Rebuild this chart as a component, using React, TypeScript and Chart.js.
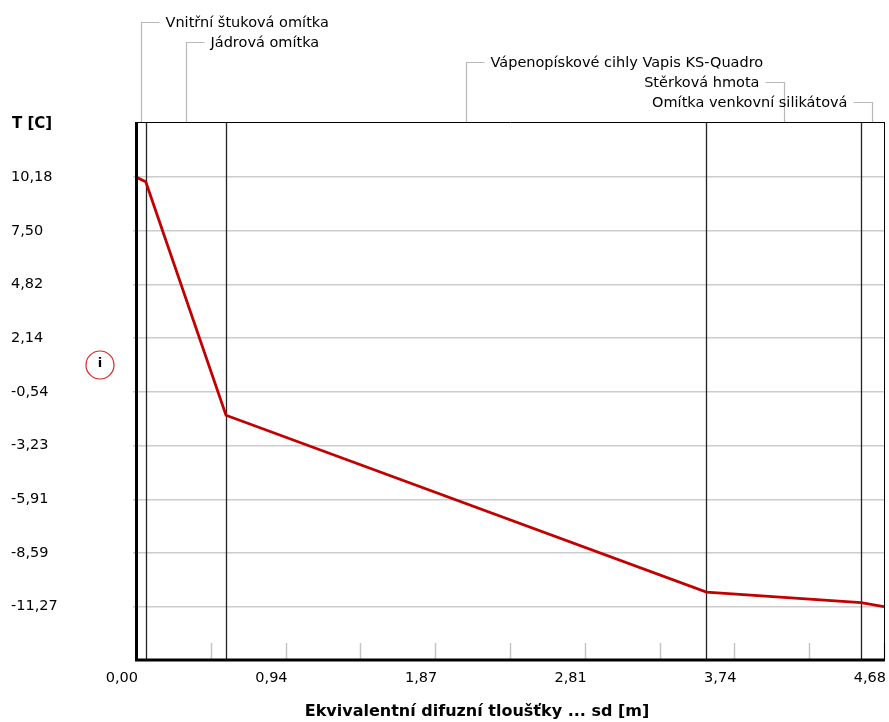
import React, { useEffect, useRef } from 'react';
import { Chart, registerables } from 'chart.js';

Chart.register(...registerables);

// ---- data ----
const sd = [0, 0.061, 0.563, 3.569, 4.536, 4.68];
const temperature = [10.18, 9.95, -1.71, -10.54, -11.07, -11.27];

const layerNames = [
  'Vnitřní štuková omítka',
  'Jádrová omítka',
  'Vápenopískové cihly Vapis KS-Quadro',
  'Stěrková hmota',
  'Omítka venkovní silikátová',
];
const layerBounds = [0, 0.061, 0.563, 3.569, 4.536, 4.68];

const xTicks = [0, 0.468, 0.936, 1.404, 1.872, 2.34, 2.808, 3.276, 3.744, 4.212, 4.68];
const xTickLabels = ['0,00', '', '0,94', '', '1,87', '', '2,81', '', '3,74', '', '4,68'];
const yTicks = [10.18, 7.5, 4.82, 2.14, -0.54, -3.23, -5.91, -8.59, -11.27];
const yTickLabels = ['10,18', '7,50', '4,82', '2,14', '-0,54', '-3,23', '-5,91', '-8,59', '-11,27'];

const xMin = 0;
const xMax = 4.68;
const yMin = -13.93;
const yMax = 12.93;

const yAxisTitle = 'T [C]';
const xAxisTitle = 'Ekvivalentní difuzní tloušťky ... sd [m]';

const FONT = '"DejaVu Sans", "Liberation Sans", Arial, sans-serif';

const decor = {
  id: 'decor',
  beforeDatasetsDraw(chart: any) {
    const { ctx, chartArea: a, scales } = chart;
    const x = scales.x;
    ctx.save();
    // short inner tick marks at the bottom
    ctx.strokeStyle = '#c4c4c4';
    ctx.lineWidth = 1.5;
    xTicks.forEach((v) => {
      const px = Math.round(x.getPixelForValue(v)) + 0.5;
      ctx.beginPath();
      ctx.moveTo(px, a.bottom - 17);
      ctx.lineTo(px, a.bottom);
      ctx.stroke();
    });
    // layer boundaries
    ctx.strokeStyle = '#222';
    ctx.lineWidth = 1.3;
    layerBounds.slice(1, -1).forEach((v) => {
      const px = Math.round(x.getPixelForValue(v)) + 0.5;
      ctx.beginPath();
      ctx.moveTo(px, a.top);
      ctx.lineTo(px, a.bottom);
      ctx.stroke();
    });
    ctx.restore();
  },
  afterDatasetsDraw(chart: any) {
    const { ctx, chartArea: a, scales } = chart;
    const x = scales.x;
    ctx.save();
    // frame
    ctx.strokeStyle = '#000';
    ctx.lineWidth = 1;
    ctx.beginPath();
    ctx.moveTo(a.left, a.top + 0.5);
    ctx.lineTo(a.right + 1, a.top + 0.5);
    ctx.moveTo(a.right + 0.5, a.top);
    ctx.lineTo(a.right + 0.5, a.bottom);
    ctx.stroke();
    ctx.lineWidth = 3;
    ctx.beginPath();
    ctx.moveTo(a.left + 0.5, a.top);
    ctx.lineTo(a.left + 0.5, a.bottom + 1.5);
    ctx.moveTo(a.left - 1, a.bottom);
    ctx.lineTo(a.right + 1, a.bottom);
    ctx.stroke();

    // layer labels with leader lines
    ctx.font = '14.5px ' + FONT;
    ctx.fillStyle = '#000';
    ctx.textBaseline = 'alphabetic';
    layerNames.forEach((name, i) => {
      const cx = Math.round((x.getPixelForValue(layerBounds[i]) + x.getPixelForValue(layerBounds[i + 1])) / 2) + 0.5;
      const rowY = Math.round(a.top - 100 + i * 20) + 0.5;
      const w = ctx.measureText(name).width;
      const right = cx + 24 + w <= chart.width - 2;
      ctx.strokeStyle = '#b8b8b8';
      ctx.lineWidth = 1.2;
      ctx.beginPath();
      ctx.moveTo(cx, a.top);
      ctx.lineTo(cx, rowY);
      ctx.lineTo(right ? cx + 18 : cx - 19, rowY);
      ctx.stroke();
      if (right) {
        ctx.textAlign = 'left';
        ctx.fillText(name, cx + 24, rowY + 4);
      } else {
        ctx.textAlign = 'right';
        ctx.fillText(name, cx - 25, rowY + 4);
      }
    });

    // axis titles
    ctx.font = 'bold 15px ' + FONT;
    ctx.textAlign = 'left';
    ctx.textBaseline = 'middle';
    ctx.fillText(yAxisTitle, 12, a.top + 2);
    ctx.font = 'bold 16px ' + FONT;
    ctx.textAlign = 'center';
    ctx.fillText(xAxisTitle, 477, 712);

    // info icon
    ctx.strokeStyle = '#d22';
    ctx.lineWidth = 1.2;
    ctx.beginPath();
    ctx.arc(100, 365, 14, 0, Math.PI * 2);
    ctx.stroke();
    ctx.fillStyle = '#000';
    ctx.font = 'bold 13px ' + FONT;
    ctx.textAlign = 'center';
    ctx.textBaseline = 'middle';
    ctx.fillText('i', 100, 364);
    ctx.restore();
  },
};

export default function App() {
  const ref = useRef<HTMLCanvasElement | null>(null);

  useEffect(() => {
    if (!ref.current) return;
    const chart = new Chart(ref.current, {
      type: 'line',
      data: {
        datasets: [
          {
            data: sd.map((v, i) => ({ x: v, y: temperature[i] })),
            borderColor: '#c20000',
            borderWidth: 2.8,
            pointRadius: 0,
            tension: 0,
            fill: false,
          },
        ],
      },
      options: {
        animation: false,
        responsive: false,
        devicePixelRatio: 1,
        layout: { padding: { left: 11, top: 122, right: 5, bottom: 0 } },
        plugins: { legend: { display: false }, tooltip: { enabled: false } },
        scales: {
          x: {
            type: 'linear',
            min: xMin,
            max: xMax,
            afterBuildTicks: (s: any) => {
              s.ticks = xTicks.map((v) => ({ value: v }));
            },
            afterFit: (s: any) => {
              s.height = 62;
              s.paddingRight = 0;
              s.paddingLeft = 0;
            },
            grid: { display: true, drawOnChartArea: false, drawTicks: false, color: 'rgba(0,0,0,0)' },
            border: { display: false },
            ticks: {
              autoSkip: false,
              maxRotation: 0,
              align: 'end',
              labelOffset: 2,
              padding: 10,
              color: '#000',
              font: { family: FONT, size: 14.5 },
              callback: (_v: any, i: number) => xTickLabels[i],
            },
          },
          y: {
            type: 'linear',
            min: yMin,
            max: yMax,
            afterBuildTicks: (s: any) => {
              s.ticks = yTicks.map((v) => ({ value: v }));
            },
            afterFit: (s: any) => {
              s.width = 125;
              s.paddingTop = 0;
              s.paddingBottom = 0;
            },
            grid: { color: '#cccccc', lineWidth: 1.5, drawTicks: true, tickLength: 3 },
            border: { display: false },
            ticks: {
              autoSkip: false,
              crossAlign: 'far',
              color: '#000',
              font: { family: FONT, size: 14.5 },
              callback: (_v: any, i: number) => yTickLabels[i],
            },
          },
        },
      },
      plugins: [decor],
    } as any);
    return () => chart.destroy();
  }, []);

  return (
    <div style={{ position: 'absolute', left: 0, top: 0, width: 889, height: 722, background: '#fff' }}>
      <canvas ref={ref} width={889} height={722} style={{ display: 'block' }} />
    </div>
  );
}
